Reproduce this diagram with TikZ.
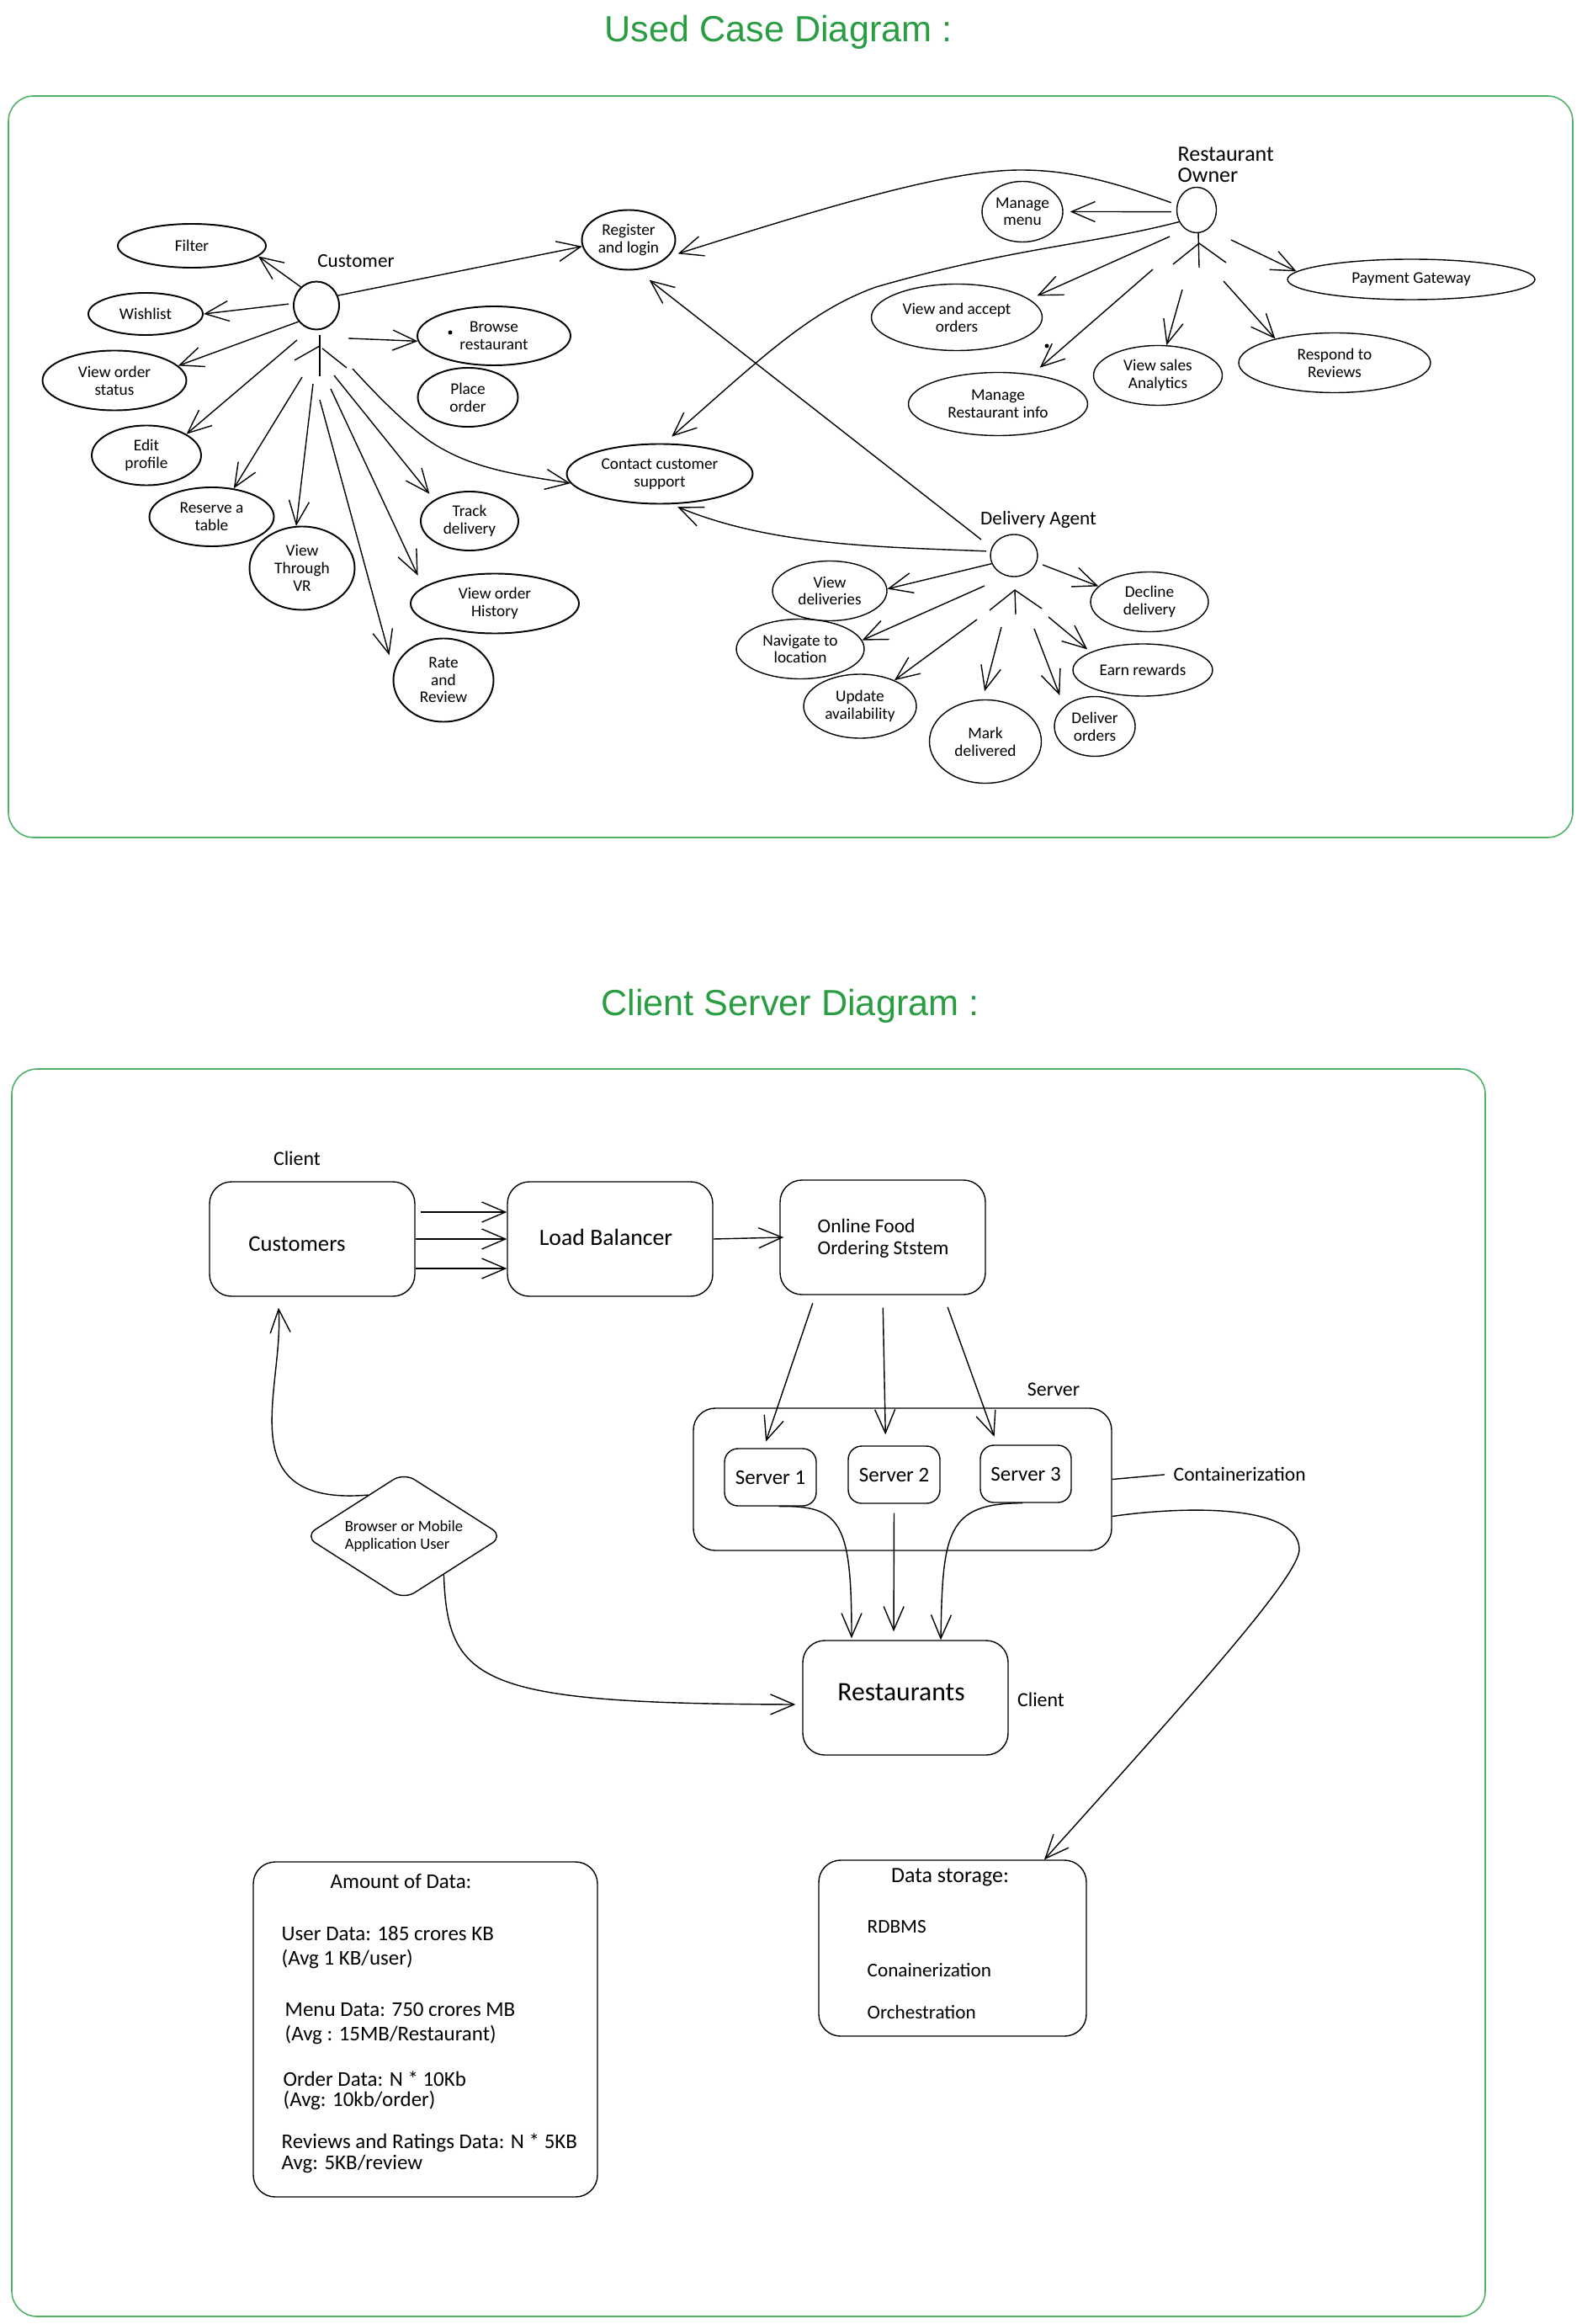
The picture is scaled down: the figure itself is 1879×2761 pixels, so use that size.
\documentclass[tikz,border=0pt]{standalone}
\usepackage{fontspec}
\setmainfont{Carlito}
\newfontfamily\titlefont{Liberation Sans}
\usetikzlibrary{arrows.meta,shapes.geometric}
\definecolor{framegreen}{HTML}{4FB163}
\definecolor{titlegreen}{HTML}{2A9D43}
\tikzset{
    arr/.style={-{Straight Barb[length=2.8mm,width=2.4mm]},line join=round},
    usecase/.style={ellipse,draw,inner sep=0pt,align=center,font=\fontsize{5.5}{5.9}\selectfont},
    rough/.style={usecase,line width=0.55pt},
    actor/.style={ellipse,draw,inner sep=0pt},
    actorname/.style={inner sep=0pt,align=left,font=\fontsize{6.6}{7.2}\selectfont},
    panel/.style={draw=framegreen,rounded corners=3mm,line width=0.45pt},
    title/.style={inner sep=0pt,text=titlegreen,font=\titlefont\fontsize{12.3}{14}\selectfont},
    block/.style={draw,rounded corners=2.6mm,inner sep=0pt,align=left},
    label/.style={inner sep=0pt,font=\fontsize{6.8}{7.5}\selectfont},
    note/.style={anchor=west,inner sep=0pt,font=\fontsize{7.1}{8}\selectfont},
}
\begin{document}
\begin{tikzpicture}[x=0.1mm,y=-0.1mm,line width=0.4pt]
    \useasboundingbox (0,0) rectangle (1879,2761);

    % use case part
    \node (usedTitle) at (925,38) [title] {Used Case Diagram :};
    \node (usedFrame) at (939.5,554.5) [panel,minimum width=185.9mm,minimum height=88.1mm] {};

    \node (custHead) at (376,363) [actor,line width=0.55pt,minimum width=5.4mm,minimum height=5.7mm] {};
    \node (custName) at (423,310) [actorname] {Customer};
    \draw (380,398) -- +(0,49);
    \draw (350,428) -- (380,411);
    \draw (383,414) -- (412,437);

    \node (filter) at (228,292) [rough,minimum width=17.6mm,minimum height=5.2mm] {Filter};
    \node (wishlist) at (173,373) [rough,minimum width=13.6mm,minimum height=5mm] {Wishlist};
    \node (status) at (136,452) [rough,minimum width=17.1mm,minimum height=7.1mm] {View order\\status};
    \node (edit) at (174,541) [rough,minimum width=13mm,minimum height=7.1mm] {Edit\\profile};
    \node (reserve) at (251.5,614) [rough,minimum width=14.8mm,minimum height=7mm] {Reserve a\\table};
    \node (vr) at (359,675) [rough,minimum width=12.5mm,minimum height=9.9mm] {View\\Through\\VR};
    \node (rate) at (527,808) [rough,minimum width=11.9mm,minimum height=9.9mm] {Rate\\and\\Review};
    \node (history) at (588,717) [rough,minimum width=20mm,minimum height=7.1mm] {View order\\History};
    \node (track) at (558,619) [rough,minimum width=11.6mm,minimum height=7mm] {Track\\delivery};
    \node (place) at (556,472) [rough,minimum width=11.9mm,minimum height=7mm] {Place\\order};
    \node (browse) at (587,399) [rough,minimum width=18.2mm,minimum height=7mm] {Browse\\restaurant};
    \node (register) at (747,285) [rough,minimum width=11.1mm,minimum height=7.1mm] {Register\\and login};
    \node (contact) at (784,563) [rough,minimum width=22.1mm,minimum height=7.1mm] {Contact customer\\support};
    \fill (535,395) circle (2.5);

    \coordinate (cEdit) at (353,404);
    \coordinate (cReserve) at (359,448);
    \coordinate (cVr) at (372,456);
    \coordinate (cRate) at (380,475);
    \coordinate (cHistory) at (393,462);
    \coordinate (cTrack) at (397,446);
    \coordinate (cContact) at (419,438);
    \coordinate (cBrowse) at (414,402);

    \draw[arr] (custHead.130) -- (filter.-9);
    \draw[arr,shorten <=0.5mm] (custHead.175) -- (wishlist.east);
    \draw[arr] (custHead.222) -- (status.13);
    \draw[arr] (custHead.25) -- (register.188);
    \foreach \src/\dst in {cEdit/edit.28,cReserve/reserve.52,cVr/vr.98,cBrowse/browse.184}
        \draw[arr] (\src) -- (\dst);
    \draw[arr,shorten >=2mm] (cRate) -- (rate.170);
    \draw[arr,shorten >=1.5mm] (cHistory) -- (history.167);
    \draw[arr,shorten >=0.9mm] (cTrack) -- (track.149);
    \draw[arr] (cContact) .. controls (480,505) and (510,525) .. (527,534) .. controls (570,558) and (620,565) .. (contact.186);

    % restaurant owner
    \node (ownerHead) at (1422,249.5) [actor,minimum width=4.7mm,minimum height=5.4mm] {};
    \node (ownerName) at (1399,196) [actorname,anchor=west,font=\fontsize{7.4}{7.1}\selectfont] {Restaurant\\Owner};
    \draw (1424,276) -- +(1,42);
    \draw (1394,314) -- (1425,289) -- (1457,312);

    \node (menu) at (1215,251.5) [usecase,minimum width=9.6mm,minimum height=7.2mm] {Manage\\menu};
    \node (payment) at (1677,332) [usecase,minimum width=29.4mm,minimum height=4.8mm] {Payment Gateway};
    \node (accept) at (1137,377) [usecase,minimum width=20.3mm,minimum height=7.9mm] {View and accept\\orders};
    \node (info) at (1186,480) [usecase,minimum width=21.3mm,minimum height=7.5mm] {Manage\\Restaurant info};
    \node (sales) at (1376,446) [usecase,minimum width=15.3mm,minimum height=7.1mm] {View sales\\Analytics};
    \node (respond) at (1586,431) [usecase,minimum width=22.8mm,minimum height=7.1mm] {Respond to\\Reviews};
    \fill (1244,411) circle (2.5);

    \coordinate (oPay) at (1463,285);
    \coordinate (oAccept) at (1390,281);
    \coordinate (oInfo) at (1370,320);
    \coordinate (oSales) at (1405,344);
    \coordinate (oRespond) at (1454,334);

    \draw[arr,shorten <=0.6mm,shorten >=0.8mm] (ownerHead.185) -- (menu.east);
    \foreach \src/\dst in {oPay/payment.176,oSales/sales.74,oRespond/respond.158}
        \draw[arr] (\src) -- (\dst);
    \draw[arr,shorten >=1mm] (oAccept) -- (accept.14);
    \draw[arr,shorten >=1.2mm] (oInfo) -- (info.41);
    \draw[arr,shorten <=0.7mm,shorten >=1.2mm] (ownerHead.165) .. controls (1320,215) and (1270,202) .. (1213,202) .. controls (1130,202) and (1000,240) .. (register.-23);
    \draw[arr,shorten >=1.2mm] (ownerHead.214) .. controls (1300,290) and (1200,295) .. (1041,341) .. controls (960,370) and (900,430) .. (contact.82);

    % delivery agent
    \node (agentHead) at (1205,660) [actor,minimum width=5.6mm,minimum height=5mm] {};
    \node (agentName) at (1234,617) [actorname] {Delivery Agent};
    \draw (1206,702) -- +(1,28);
    \draw (1176,725) -- (1206,701) -- (1238,723);

    \node (deliveries) at (986,702) [usecase,minimum width=13.6mm,minimum height=7.1mm] {View\\deliveries};
    \node (navigate) at (951,771) [usecase,minimum width=15.2mm,minimum height=7.1mm] {Navigate to\\location};
    \node (update) at (1022,839) [usecase,minimum width=13.4mm,minimum height=7.6mm] {Update\\availability};
    \node (mark) at (1171,881) [usecase,minimum width=13.3mm,minimum height=9.9mm] {Mark\\delivered};
    \node (deliver) at (1301,863) [usecase,minimum width=9.6mm,minimum height=7.1mm] {Deliver\\orders};
    \node (earn) at (1358,796) [usecase,minimum width=16.6mm,minimum height=6.2mm] {Earn rewards};
    \node (decline) at (1366,715) [usecase,minimum width=14mm,minimum height=7.1mm] {Decline\\delivery};

    \coordinate (aNav) at (1170,696);
    \coordinate (aUpdate) at (1161,736);
    \coordinate (aMark) at (1190,745);
    \coordinate (aDeliver) at (1229,747);
    \coordinate (aEarn) at (1246,733);
    \coordinate (aDecline) at (1239,671);
    \coordinate (aReg) at (1166,641);

    \draw[arr] (agentHead.200) -- (deliveries.2);
    \foreach \src/\dst in {aNav/navigate.8,aUpdate/update.37,aDecline/decline.163}
        \draw[arr] (\src) -- (\dst);
    \draw[arr,shorten >=0.5mm] (aEarn) -- (earn.161);
    \draw[arr,shorten >=1mm] (aMark) -- (mark.94);
    \draw[arr,shorten >=1.4mm] (aDeliver) -- (deliver.147);
    \draw[arr,shorten >=1.9mm] (aReg) -- (register.-75);
    \draw[arr,shorten <=0.5mm,shorten >=0.8mm] (agentHead.170) .. controls (1060,650) and (920,650) .. (contact.-69);

    % client server part
    \node (clientTitle) at (939,1195) [title] {Client Server Diagram :};
    \node (clientFrame) at (889.5,2011) [panel,minimum width=175.1mm,minimum height=148.2mm] {};

    \node (customers) at (371,1472) [block,minimum width=24.4mm,minimum height=13.6mm] {};
    \node (customersText) at (353,1478) [inner sep=0pt,font=\fontsize{7.6}{8}\selectfont] {Customers};
    \node (clientTop) at (353,1376) [label] {Client};
    \node (balancer) at (725,1472) [block,minimum width=24.4mm,minimum height=13.6mm] {};
    \node (balancerText) at (720,1470) [inner sep=0pt,font=\fontsize{7.9}{8}\selectfont] {Load Balancer};
    \node (online) at (1049,1470) [block,minimum width=24.4mm,minimum height=13.6mm] {};
    \node (onlineText) at (971,1471) [anchor=west,inner sep=0pt,align=left,font=\fontsize{6.7}{7.4}\selectfont] {Online Food\\Ordering Ststem};

    \node (servers) at (1072.5,1757.5) [block,minimum width=49.7mm,minimum height=16.9mm] {};
    \node (serverName) at (1252,1651) [label] {Server};
    \node (srv1) at (915.5,1755) [block,rounded corners=1.6mm,minimum width=10.9mm,minimum height=6.8mm,font=\fontsize{7.1}{8}\selectfont] {Server 1};
    \node (srv2) at (1062.5,1752) [block,rounded corners=1.6mm,minimum width=10.9mm,minimum height=6.8mm,font=\fontsize{7.1}{8}\selectfont] {Server 2};
    \node (srv3) at (1219,1751) [block,rounded corners=1.6mm,minimum width=10.8mm,minimum height=6.8mm,font=\fontsize{7.1}{8}\selectfont] {Server 3};
    \node (contain) at (1394,1751) [note,font=\fontsize{6.7}{7.5}\selectfont] {Containerization};

    \node (browser) at (480,1825) [diamond,draw,rounded corners=1.5mm,aspect=1.55,inner sep=0pt,minimum width=23.6mm,minimum height=15.1mm,align=left,font=\fontsize{5.3}{5.9}\selectfont] {Browser or Mobile\\Application User};

    \node (restaurants) at (1076,2017) [block,minimum width=24.4mm,minimum height=13.6mm] {};
    \node (restaurantsText) at (1071,2010) [inner sep=0pt,font=\fontsize{9}{10}\selectfont] {Restaurants};
    \node (clientRight) at (1237,2019) [label] {Client};

    % data boxes
    \node (amount) at (505.5,2411) [block,minimum width=40.9mm,minimum height=39.8mm] {};
    \node (amountTitle) at (392,2235) [note] {Amount of Data:};
    \node (userData) at (334,2297) [note] {User Data: 185 crores KB};
    \node (userAvg) at (334,2327) [note] {(Avg 1 KB/user)};
    \node (menuData) at (338,2387) [note] {Menu Data: 750 crores MB};
    \node (menuAvg) at (338,2417) [note] {(Avg : 15MB/Restaurant)};
    \node (orderData) at (336,2470) [note] {Order Data: N * 10Kb};
    \node (orderAvg) at (336,2495) [note] {(Avg: 10kb/order)};
    \node (reviewData) at (334,2546) [note] {Reviews and Ratings Data: N * 5KB};
    \node (reviewAvg) at (334,2571) [note] {Avg: 5KB/review};

    \node (storage) at (1132,2314.5) [block,minimum width=31.8mm,minimum height=20.9mm] {};
    \node (storageTitle) at (1129,2230) [inner sep=0pt,font=\fontsize{7.4}{8}\selectfont] {Data storage:};
    \node (rdbms) at (1030,2289) [note,font=\fontsize{6.6}{7.5}\selectfont] {RDBMS};
    \node (conain) at (1030,2341) [note,font=\fontsize{6.6}{7.5}\selectfont] {Conainerization};
    \node (orchestration) at (1030,2391) [note,font=\fontsize{6.6}{7.5}\selectfont] {Orchestration};

    \draw[arr,shorten <=0.6mm] ([yshift=3.2mm]customers.east) -- ([yshift=3.2mm]balancer.west);
    \draw[arr] (customers.east) -- (balancer.west);
    \draw[arr] ([yshift=-3.5mm]customers.east) -- ([yshift=-3.5mm]balancer.west);
    \draw[arr] (balancer.east) -- ([xshift=0.5mm]online.west);

    \draw[arr,shorten <=1mm,shorten >=0.8mm] ([xshift=-8mm]online.south) -- ([xshift=-0.8mm]srv1.north);
    \draw[arr,shorten <=1.5mm,shorten >=1.3mm] (online.south) -- ([xshift=-1mm]srv2.north);
    \draw[arr,shorten <=1.5mm,shorten >=1mm] ([xshift=7.2mm]online.south) -- ([xshift=-3.4mm]srv3.north);

    \draw[arr,shorten >=0.2mm] ([xshift=1mm]srv1.south) .. controls (1000,1788) and (1012,1810) .. ([xshift=-6.4mm]restaurants.north);
    \draw[arr,shorten <=1.1mm,shorten >=1mm] (srv2.south) -- ([xshift=-1.4mm]restaurants.north);
    \draw[arr] ([xshift=-0.4mm]srv3.south) .. controls (1125,1786) and (1120,1820) .. ([xshift=4.2mm]restaurants.north);
    \draw[shorten >=1mm] (servers.east) -- (contain.west);
    \draw[arr] ([yshift=-4.4mm]servers.east) .. controls (1400,1790) and (1542,1785) .. (1544,1840) .. controls (1546,1870) and (1420,2010) .. ([xshift=10.9mm]storage.north);

    \draw[arr,shorten >=1.3mm] (browser.131) .. controls (270,1790) and (338,1650) .. ([xshift=-4.1mm]customers.south);
    \draw[arr,shorten >=0.8mm] (browser.-44) .. controls (532,2000) and (570,2024) .. ([yshift=-0.8mm]restaurants.west);
\end{tikzpicture}
\end{document}
